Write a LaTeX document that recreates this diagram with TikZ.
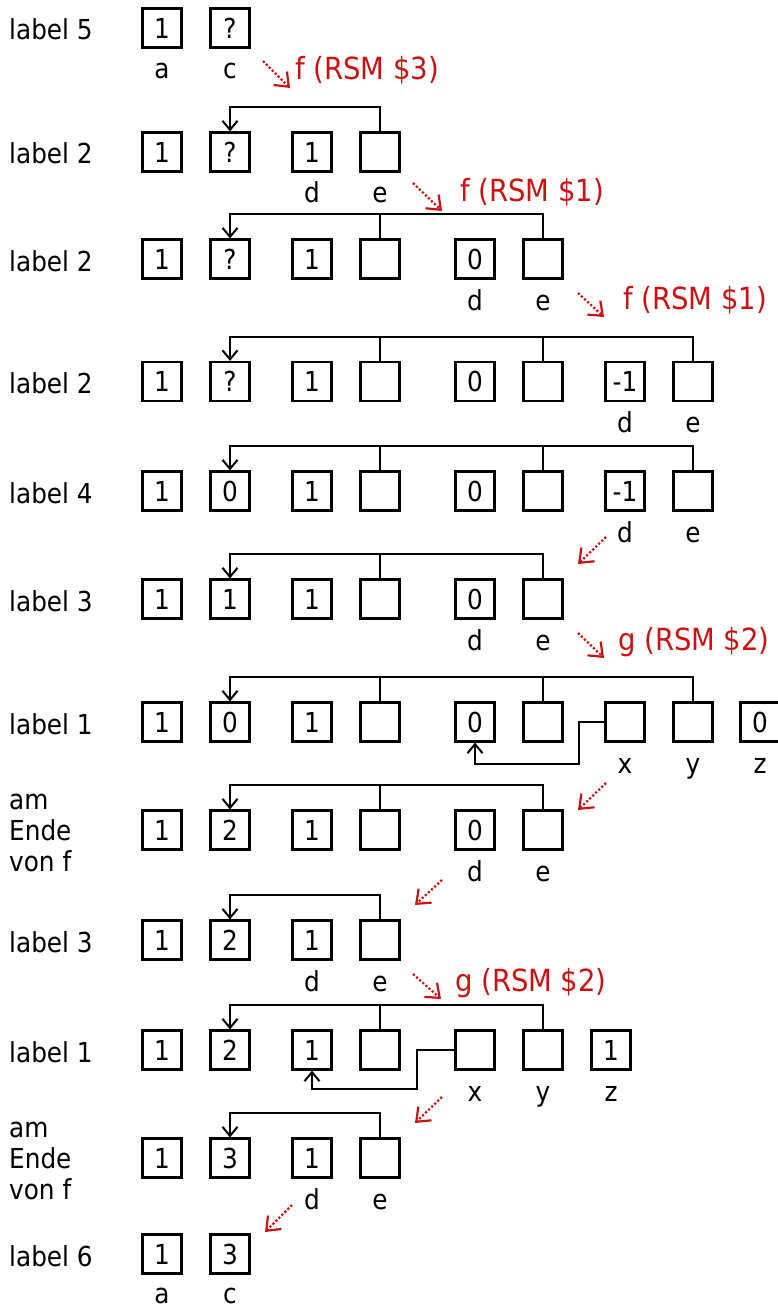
\documentclass[tikz,border=0pt]{standalone}
\usepackage{fontspec}
\setmainfont{DejaVu Sans}[FakeStretch=0.9]
\usetikzlibrary{arrows.meta}
\definecolor{rsmred}{RGB}{204,17,17}

\begin{document}
\begin{tikzpicture}[x=1pt, y=-1pt, >={Straight Barb[length=9pt,width=15pt]},
  every node/.style={inner sep=0pt, font=\fontsize{27.5}{31}\selectfont},
  cell/.style={draw, line width=2.2pt, minimum size=39pt},
  tag/.style={anchor=base},
  rowname/.style={anchor=base west, align=left},
  link/.style={line width=2pt},
  hint/.style={-{Straight Barb[length=12pt,width=19pt]}, rsmred, dotted, line width=2.2pt},
  call/.style={anchor=west, text=rsmred, font=\fontsize{30.5}{34}\selectfont}]
\useasboundingbox (0,0) rectangle (778,1308);

% label 5
\node[rowname] (t1) at (9,40) {label 5};
\node[cell] (r1c1) at (162,28) {1};
\node[cell] (r1c2) at (230,28) {?};
\node[tag] (r1a) at (162,79) {a};
\node[tag] (r1c) at (230,79) {c};
\coordinate (h1s) at (263,61); \coordinate (h1e) at (290,88);
\draw[hint] (h1s) -- (h1e);
\node[call] (f1) at (295,70) {f (RSM \$3)};

% label 2
\node[rowname] (t2) at (9,164) {label 2};
\node[cell] (r2c1) at (162,152) {1};
\node[cell] (r2c2) at (230,152) {?};
\node[cell] (r2c3) at (312,152) {1};
\node[cell] (r2c4) at (380,152) {};
\node[tag] (r2d) at (312,203) {d};
\node[tag] (r2e) at (380,203) {e};
\draw[link,->] (r2c4.north) -- ++(0,-24) -| (r2c2.north);
\coordinate (h2s) at (413,183); \coordinate (h2e) at (442,211);
\draw[hint] (h2s) -- (h2e);
\node[call] (f2) at (460,192) {f (RSM \$1)};

% label 2
\node[rowname] (t3) at (9,271) {label 2};
\node[cell] (r3c1) at (162,259) {1};
\node[cell] (r3c2) at (230,259) {?};
\node[cell] (r3c3) at (312,259) {1};
\node[cell] (r3c4) at (380,259) {};
\node[cell] (r3c5) at (475,259) {0};
\node[cell] (r3c6) at (543,259) {};
\node[tag] (r3d) at (475,310) {d};
\node[tag] (r3e) at (543,310) {e};
\draw[link,->] (r3c6.north) -- ++(0,-24) -| (r3c2.north);
\draw[link] (r3c4.north) -- ++(0,-24);
\coordinate (h3s) at (578,293); \coordinate (h3e) at (604,317);
\draw[hint] (h3s) -- (h3e);
\node[call] (f3) at (623,300) {f (RSM \$1)};

% label 2
\node[rowname] (t4) at (9,393.5) {label 2};
\node[cell] (r4c1) at (162,381.5) {1};
\node[cell] (r4c2) at (230,381.5) {?};
\node[cell] (r4c3) at (312,381.5) {1};
\node[cell] (r4c4) at (380,381.5) {};
\node[cell] (r4c5) at (475,381.5) {0};
\node[cell] (r4c6) at (543,381.5) {};
\node[cell] (r4c7) at (625,381.5) {-1};
\node[cell] (r4c8) at (693,381.5) {};
\node[tag] (r4d) at (625,432.5) {d};
\node[tag] (r4e) at (693,432.5) {e};
\draw[link,->] (r4c8.north) -- ++(0,-24) -| (r4c2.north);
\draw[link] (r4c4.north) -- ++(0,-24);
\draw[link] (r4c6.north) -- ++(0,-24);

% label 4
\node[rowname] (t5) at (9,503) {label 4};
\node[cell] (r5c1) at (162,491) {1};
\node[cell] (r5c2) at (230,491) {0};
\node[cell] (r5c3) at (312,491) {1};
\node[cell] (r5c4) at (380,491) {};
\node[cell] (r5c5) at (475,491) {0};
\node[cell] (r5c6) at (543,491) {};
\node[cell] (r5c7) at (625,491) {-1};
\node[cell] (r5c8) at (693,491) {};
\node[tag] (r5d) at (625,542) {d};
\node[tag] (r5e) at (693,542) {e};
\draw[link,->] (r5c8.north) -- ++(0,-24) -| (r5c2.north);
\draw[link] (r5c4.north) -- ++(0,-24);
\draw[link] (r5c6.north) -- ++(0,-24);
\coordinate (h4s) at (606,537); \coordinate (h4e) at (578,564);
\draw[hint] (h4s) -- (h4e);

% label 3
\node[rowname] (t6) at (9,611) {label 3};
\node[cell] (r6c1) at (162,599) {1};
\node[cell] (r6c2) at (230,599) {1};
\node[cell] (r6c3) at (312,599) {1};
\node[cell] (r6c4) at (380,599) {};
\node[cell] (r6c5) at (475,599) {0};
\node[cell] (r6c6) at (543,599) {};
\node[tag] (r6d) at (475,650) {d};
\node[tag] (r6e) at (543,650) {e};
\draw[link,->] (r6c6.north) -- ++(0,-24) -| (r6c2.north);
\draw[link] (r6c4.north) -- ++(0,-24);
\coordinate (h5s) at (578,633); \coordinate (h5e) at (604,658);
\draw[hint] (h5s) -- (h5e);
\node[call] (g1) at (618,642) {g (RSM \$2)};

% label 1
\node[rowname] (t7) at (9,734) {label 1};
\node[cell] (r7c1) at (162,722) {1};
\node[cell] (r7c2) at (230,722) {0};
\node[cell] (r7c3) at (312,722) {1};
\node[cell] (r7c4) at (380,722) {};
\node[cell] (r7c5) at (475,722) {0};
\node[cell] (r7c6) at (543,722) {};
\node[cell] (r7c7) at (625,722) {};
\node[cell] (r7c8) at (693,722) {};
\node[cell] (r7c9) at (760,722) {0};
\node[tag] (r7x) at (625,773) {x};
\node[tag] (r7y) at (693,773) {y};
\node[tag] (r7z) at (760,773) {z};
\draw[link,->] (r7c8.north) -- ++(0,-24) -| (r7c2.north);
\draw[link] (r7c4.north) -- ++(0,-24);
\draw[link] (r7c6.north) -- ++(0,-24);
\draw[link,->] (r7c7.west) -- ++(-25,0) -- ++(0,42) -| (r7c5.south);
\coordinate (h6s) at (606,783); \coordinate (h6e) at (578,810);
\draw[hint] (h6s) -- (h6e);

% am Ende von f
\node[rowname] (t8) at (9,871) {am\\Ende\\von f};
\node[cell] (r8c1) at (162,830) {1};
\node[cell] (r8c2) at (230,830) {2};
\node[cell] (r8c3) at (312,830) {1};
\node[cell] (r8c4) at (380,830) {};
\node[cell] (r8c5) at (475,830) {0};
\node[cell] (r8c6) at (543,830) {};
\node[tag] (r8d) at (475,881) {d};
\node[tag] (r8e) at (543,881) {e};
\draw[link,->] (r8c6.north) -- ++(0,-24) -| (r8c2.north);
\draw[link] (r8c4.north) -- ++(0,-24);
\coordinate (h7s) at (442,880); \coordinate (h7e) at (415,905);
\draw[hint] (h7s) -- (h7e);

% label 3
\node[rowname] (t9) at (9,952) {label 3};
\node[cell] (r9c1) at (162,940) {1};
\node[cell] (r9c2) at (230,940) {2};
\node[cell] (r9c3) at (312,940) {1};
\node[cell] (r9c4) at (380,940) {};
\node[tag] (r9d) at (312,991) {d};
\node[tag] (r9e) at (380,991) {e};
\draw[link,->] (r9c4.north) -- ++(0,-24) -| (r9c2.north);
\coordinate (h8s) at (413,974); \coordinate (h8e) at (441,999);
\draw[hint] (h8s) -- (h8e);
\node[call] (g2) at (455,983) {g (RSM \$2)};

% label 1
\node[rowname] (t10) at (9,1062) {label 1};
\node[cell] (r10c1) at (162,1050) {1};
\node[cell] (r10c2) at (230,1050) {2};
\node[cell] (r10c3) at (312,1050) {1};
\node[cell] (r10c4) at (380,1050) {};
\node[cell] (r10c5) at (475,1050) {};
\node[cell] (r10c6) at (543,1050) {};
\node[cell] (r10c7) at (611,1050) {1};
\node[tag] (r10x) at (475,1101) {x};
\node[tag] (r10y) at (543,1101) {y};
\node[tag] (r10z) at (611,1101) {z};
\draw[link,->] (r10c6.north) -- ++(0,-24) -| (r10c2.north);
\draw[link] (r10c4.north) -- ++(0,-24);
\draw[link,->] (r10c5.west) -- ++(-37,0) -- ++(0,39) -| (r10c3.south);
\coordinate (h9s) at (442,1097); \coordinate (h9e) at (415,1123);
\draw[hint] (h9s) -- (h9e);

% am Ende von f
\node[rowname] (t11) at (9,1199) {am\\Ende\\von f};
\node[cell] (r11c1) at (162,1158) {1};
\node[cell] (r11c2) at (230,1158) {3};
\node[cell] (r11c3) at (312,1158) {1};
\node[cell] (r11c4) at (380,1158) {};
\node[tag] (r11d) at (312,1209) {d};
\node[tag] (r11e) at (380,1209) {e};
\draw[link,->] (r11c4.north) -- ++(0,-24) -| (r11c2.north);
\coordinate (h10s) at (292,1205); \coordinate (h10e) at (265,1232);
\draw[hint] (h10s) -- (h10e);

% label 6
\node[rowname] (t12) at (9,1266) {label 6};
\node[cell] (r12c1) at (162,1254) {1};
\node[cell] (r12c2) at (230,1254) {3};
\node[tag] (r12a) at (162,1303.5) {a};
\node[tag] (r12c) at (230,1303.5) {c};
\end{tikzpicture}
\end{document}
